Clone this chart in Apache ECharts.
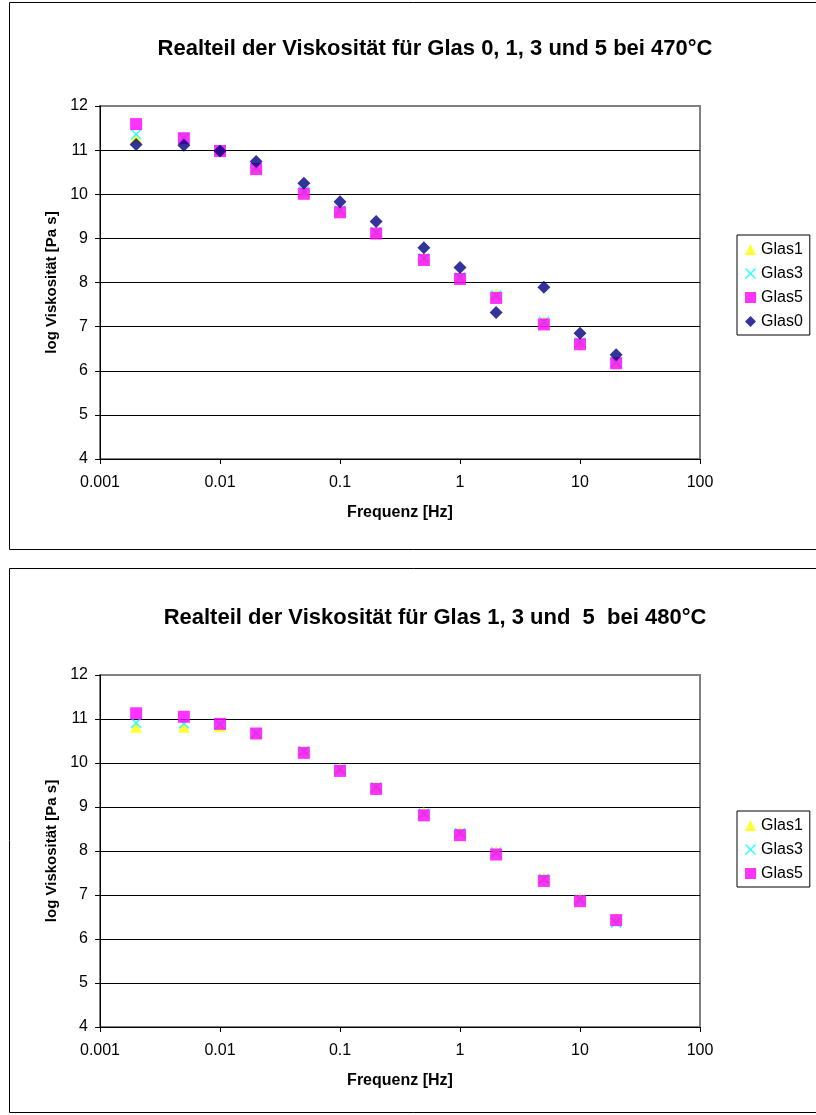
<!DOCTYPE html>
<html>
<head>
<meta charset="utf-8">
<script src="https://cdn.jsdelivr.net/npm/echarts@6/dist/echarts.min.js"></script>
<style>
  html, body { margin: 0; padding: 0; background: #fff; }
  #chart { width: 816px; height: 1115px; }
</style>
</head>
<body>
<div id="chart"></div>
<script>
// Frequencies (Hz) shared by both measurement series
const frequencies = [0.002, 0.005, 0.01, 0.02, 0.05, 0.1, 0.2, 0.5, 1, 2, 5, 10, 20];

// 470 °C: log viscosity [Pa s]
const glas1_470 = [11.27, 11.25, 11.00, 10.62, 10.07, 9.64, 9.15, 8.56, 8.13, 7.74, 7.13, 6.65, 6.20];
const glas3_470 = [11.36, 11.27, 10.99, 10.60, 10.06, 9.63, 9.14, 8.55, 8.12, 7.71, 7.11, 6.64, 6.19];
const glas5_470 = [11.59, 11.27, 10.98, 10.57, 10.01, 9.59, 9.11, 8.51, 8.08, 7.65, 7.05, 6.60, 6.17];
const glas0_470 = [11.13, 11.11, 10.98, 10.74, 10.25, 9.83, 9.38, 8.79, 8.34, 7.32, 7.89, 6.85, 6.36];

// 480 °C: log viscosity [Pa s]
const glas1_480 = [10.81, 10.81, 10.83, 10.68, 10.29, 9.88, 9.47, 8.88, 8.44, 8.00, 7.40, 6.94, 6.48];
const glas3_480 = [10.91, 10.90, 10.87, 10.68, 10.27, 9.86, 9.45, 8.85, 8.41, 7.97, 7.37, 6.90, 6.37];
const glas5_480 = [11.13, 11.05, 10.89, 10.67, 10.23, 9.82, 9.41, 8.81, 8.36, 7.92, 7.32, 6.86, 6.43];

const titles = [
  'Realteil der Viskosität für Glas 0, 1, 3 und 5 bei 470°C',
  'Realteil der Viskosität für Glas 1, 3 und  5  bei 480°C'
];
const xName = 'Frequenz [Hz]';
const yName = 'log Viskosität [Pa s]';

const FONT = '"Liberation Sans", Arial, sans-serif';
const pairs = (ys) => frequencies.map((f, i) => [f, ys[i]]);

const markers = {
  Glas1: { symbol: 'triangle', size: [12, 11], color: '#FFFF00' },
  Glas3: { symbol: 'path://M0,1 L1,0 L5,4 L9,0 L10,1 L6,5 L10,9 L9,10 L5,6 L1,10 L0,9 L4,5 Z', size: 11, color: '#00FFFF' },
  Glas5: { symbol: 'rect', size: 12, color: '#FF00FF' },
  Glas0: { symbol: 'diamond', size: 13, color: '#000080' }
};

function scatter(name, ys, idx) {
  const m = markers[name];
  return {
    name, type: 'scatter', xAxisIndex: idx, yAxisIndex: idx,
    data: pairs(ys), symbol: m.symbol, symbolSize: m.size,
    itemStyle: { color: m.color }, silent: true
  };
}

const gridTops = [106, 675];
const gridHeights = [353, 352];

const xAxes = gridTops.map((_, i) => ({
  type: 'log', logBase: 10, min: 0.001, max: 100, gridIndex: i,
  name: xName, nameLocation: 'middle', nameGap: 46,
  nameTextStyle: { fontFamily: FONT, fontSize: 16, fontWeight: 'bold', color: '#000' },
  axisLine: { lineStyle: { color: '#000', width: 1 } },
  axisTick: { show: true, inside: false, length: 5, lineStyle: { color: '#000' } },
  minorTick: { show: false },
  splitLine: { show: false },
  axisLabel: {
    fontFamily: FONT, fontSize: 16, color: '#000', margin: 16,
    formatter: (v) => String(+v.toPrecision(6))
  }
}));

const yAxes = gridTops.map((_, i) => ({
  type: 'value', min: 4, max: 12, interval: 1, gridIndex: i,
  name: yName, nameLocation: 'middle', nameGap: 40, nameRotate: 90,
  nameTextStyle: { fontFamily: FONT, fontSize: 15, fontWeight: 'bold', color: '#000' },
  axisLine: { show: true, lineStyle: { color: '#000', width: 1 } },
  axisTick: { show: true, inside: false, length: 5, lineStyle: { color: '#000' } },
  splitLine: {
    show: true,
    lineStyle: { color: ['#000', '#000', '#000', '#000', '#000', '#000', '#000', '#000', '#808080'], width: 1 }
  },
  axisLabel: { fontFamily: FONT, fontSize: 16, color: '#000', margin: 12 }
}));

const grids = gridTops.map((t, i) => ({
  left: 100, top: t, width: 600, height: gridHeights[i],
  show: true, borderColor: '#808080', borderWidth: 2, backgroundColor: '#fff'
}));

function legendFor(names, top) {
  return {
    data: names, orient: 'vertical', left: 737, top,
    itemWidth: 11, itemHeight: 11, itemGap: 7, padding: [6, 7, 5, 8],
    borderColor: '#000', borderWidth: 1, backgroundColor: '#fff',
    textStyle: { fontFamily: FONT, fontSize: 16, color: '#000', lineHeight: 17 }
  };
}

const option = {
  backgroundColor: '#fff',
  animation: false,
  title: [
    { text: titles[0], left: 430, top: 33, textAlign: 'center',
      textStyle: { fontFamily: FONT, fontSize: 22, fontWeight: 'bold', color: '#000' } },
    { text: titles[1], left: 430, top: 602, textAlign: 'center',
      textStyle: { fontFamily: FONT, fontSize: 22, fontWeight: 'bold', color: '#000' } }
  ],
  legend: [
    legendFor(['Glas1', 'Glas3', 'Glas5', 'Glas0'], 235),
    legendFor(['Glas1', 'Glas3', 'Glas5'], 811)
  ],
  graphic: [
    { type: 'rect', shape: { x: 9.5, y: 2.5, width: 820, height: 547 },
      style: { fill: 'none', stroke: '#000', lineWidth: 1 }, silent: true, z: -10 },
    { type: 'rect', shape: { x: 9.5, y: 568.5, width: 820, height: 544 },
      style: { fill: 'none', stroke: '#000', lineWidth: 1 }, silent: true, z: -10 }
  ],
  grid: grids,
  xAxis: xAxes,
  yAxis: yAxes,
  series: [
    scatter('Glas1', glas1_470, 0),
    scatter('Glas3', glas3_470, 0),
    scatter('Glas5', glas5_470, 0),
    scatter('Glas0', glas0_470, 0),
    scatter('Glas1', glas1_480, 1),
    scatter('Glas3', glas3_480, 1),
    scatter('Glas5', glas5_480, 1)
  ]
};

const chart = echarts.init(document.getElementById('chart'), null, { renderer: 'canvas' });
chart.setOption(option);
</script>
</body>
</html>
